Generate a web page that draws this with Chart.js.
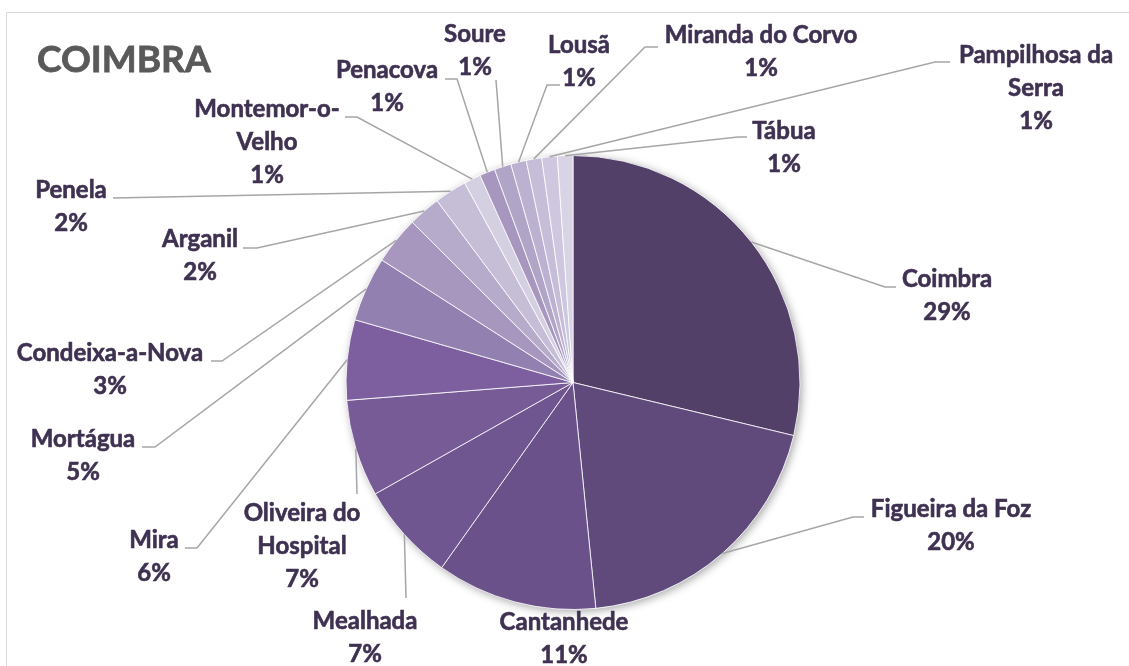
<!DOCTYPE html>
<html>
<head>
<meta charset="utf-8">
<script src="https://cdn.jsdelivr.net/npm/chart.js@4.4.1/dist/chart.umd.min.js"></script>
<style>
  body { margin: 0; background: #fff; }
</style>
</head>
<body>
<canvas id="myChart" width="1129" height="666"></canvas>
<script>
// dados do grafico
const concelhos = ['Coimbra', 'Figueira da Foz', 'Cantanhede', 'Mealhada', 'Oliveira do Hospital',
    'Mira', 'Mortágua', 'Condeixa-a-Nova', 'Arganil', 'Penela', 'Montemor-o-Velho', 'Penacova',
    'Soure', 'Lousã', 'Miranda do Corvo', 'Pampilhosa da Serra', 'Tábua'];
const valores = [28.7, 19.6, 11.4, 7.0, 6.9, 5.7, 4.6, 3.4, 2.3, 2.3, 1.2, 1.1, 1.2, 1.1, 1.1, 1.1, 1.1];
const cores = ['#524068', '#5f4a7b', '#6a5189', '#6f5690', '#775b97', '#7d5fa0', '#9280b0', '#a796be',
    '#b7abcb', '#c6bdd7', '#d5cfe2', '#a796be', '#b1a5c7', '#bcb1d0', '#c6bdd8', '#cec7df', '#d8d3e5'];

// quebras de linha dos rotulos como no original
const quebras = {
    'Oliveira do Hospital': ['Oliveira do', 'Hospital'],
    'Montemor-o-Velho': ['Montemor-o-', 'Velho'],
    'Pampilhosa da Serra': ['Pampilhosa da', 'Serra']
};

// posicao dos rotulos (centro x, linha de base) e pontos da linha de ligacao
const rotulos = [
    { x: 947, y: 287, guia: [[885, 287], [896, 287]] },
    { x: 951, y: 517, guia: [[853, 517], [864, 517]] },
    { x: 564, y: 630, guia: [] },
    { x: 365, y: 629, guia: [[406, 598]] },
    { x: 302, y: 521, guia: [[357, 494]] },
    { x: 154, y: 548, guia: [[197, 548], [185, 548]] },
    { x: 83, y: 447, guia: [[155, 447], [142, 447]] },
    { x: 110, y: 361, guia: [[222, 361], [211, 361]] },
    { x: 200, y: 247, guia: [[257, 248], [243, 248]] },
    { x: 71, y: 198, guia: [[113, 198]] },
    { x: 267, y: 117, guia: [[357, 117], [345, 117]] },
    { x: 387, y: 78, guia: [[457, 79], [445, 79]] },
    { x: 475, y: 42, guia: [[496, 80]] },
    { x: 579, y: 53, guia: [[547, 85], [560, 85]] },
    { x: 761, y: 43, guia: [[645, 47], [658, 47]] },
    { x: 1036, y: 63, guia: [[935, 62], [950, 62]] },
    { x: 784, y: 139, guia: [[738, 137], [747, 137]] }
];

const fonteRotulo = 'bold 24px Lato';
const corTexto = '#3f3151';

// moldura, titulo e sombra do circulo
const fundoPlugin = {
    id: 'fundo',
    beforeDraw(chart) {
        const ctx = chart.ctx;
        ctx.save();
        ctx.strokeStyle = '#d9d9d9';
        ctx.lineWidth = 1;
        ctx.beginPath();
        ctx.moveTo(6.5, chart.height);
        ctx.lineTo(6.5, 12.5);
        ctx.lineTo(chart.width, 12.5);
        ctx.stroke();
        ctx.fillStyle = '#595959';
        ctx.strokeStyle = '#595959';
        ctx.lineWidth = 0.8;
        ctx.font = 'bold 37px Lato';
        ctx.textAlign = 'left';
        ctx.textBaseline = 'alphabetic';
        ctx.fillText('COIMBRA', 37, 72);
        ctx.strokeText('COIMBRA', 37, 72);
        ctx.restore();
    },
    beforeDatasetsDraw(chart) {
        const arc = chart.getDatasetMeta(0).data[0];
        if (!arc) return;
        const p = arc.getProps(['x', 'y', 'outerRadius'], true);
        const ctx = chart.ctx;
        ctx.save();
        ctx.shadowColor = 'rgba(0,0,0,0.35)';
        ctx.shadowBlur = 9;
        ctx.shadowOffsetX = 2;
        ctx.shadowOffsetY = 2;
        ctx.fillStyle = '#ffffff';
        ctx.beginPath();
        ctx.arc(p.x, p.y, p.outerRadius, 0, Math.PI * 2);
        ctx.fill();
        ctx.restore();
    }
};

// rotulos com nome, percentagem e linha de ligacao
const rotulosPlugin = {
    id: 'rotulos',
    afterDatasetsDraw(chart) {
        const ctx = chart.ctx;
        const meta = chart.getDatasetMeta(0);
        const total = valores.reduce((a, b) => a + b, 0);
        ctx.save();
        meta.data.forEach((arc, i) => {
            const p = arc.getProps(['x', 'y', 'startAngle', 'endAngle', 'outerRadius'], true);
            const meio = (p.startAngle + p.endAngle) / 2;
            const ex = p.x + Math.cos(meio) * p.outerRadius;
            const ey = p.y + Math.sin(meio) * p.outerRadius;
            const r = rotulos[i];
            if (r.guia.length) {
                ctx.strokeStyle = '#a6a6a6';
                ctx.lineWidth = 1.5;
                ctx.beginPath();
                ctx.moveTo(ex, ey);
                r.guia.forEach(pt => ctx.lineTo(pt[0], pt[1]));
                ctx.stroke();
            }
            const linhas = (quebras[concelhos[i]] || [concelhos[i]]).slice();
            linhas.push(Math.round(valores[i] / total * 100) + '%');
            ctx.fillStyle = corTexto;
            ctx.strokeStyle = corTexto;
            ctx.lineWidth = 0.6;
            ctx.font = fonteRotulo;
            ctx.textAlign = 'center';
            ctx.textBaseline = 'alphabetic';
            linhas.forEach((t, k) => {
                ctx.fillText(t, r.x, r.y + k * 33);
                ctx.strokeText(t, r.x, r.y + k * 33);
            });
        });
        ctx.restore();
    }
};

new Chart(document.getElementById('myChart'), {
    type: 'pie',
    data: {
        labels: concelhos,
        datasets: [{
            data: valores,
            backgroundColor: cores,
            borderColor: 'rgba(255,255,255,0.8)',
            borderWidth: 1,
            hoverBorderWidth: 1,
            hoverOffset: 0
        }]
    },
    options: {
        responsive: false,
        animation: false,
        layout: {
            padding: { top: 155, bottom: 56, left: 300, right: 283 }
        },
        plugins: {
            legend: { display: false },
            tooltip: { enabled: false }
        }
    },
    plugins: [fundoPlugin, rotulosPlugin]
});
</script>
</body>
</html>
